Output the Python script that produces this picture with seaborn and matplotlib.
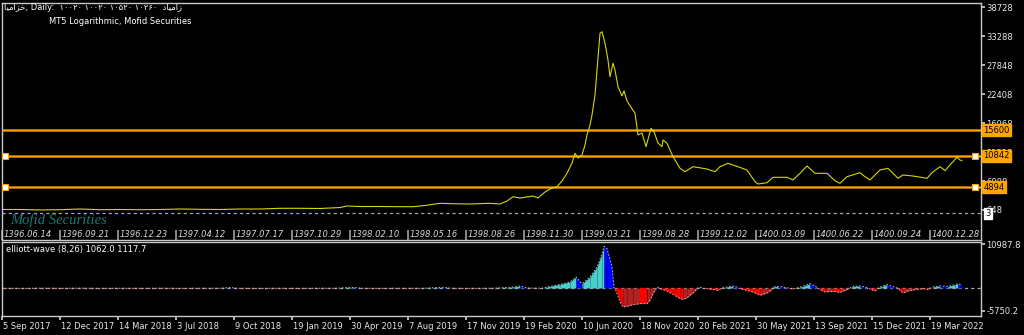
import matplotlib
matplotlib.use("Agg")
import matplotlib.pyplot as plt
import matplotlib.transforms as mtransforms
import numpy as np
import pandas as pd
import seaborn as sns

# ---------------- data ----------------
tick_bars = [0, 58, 116, 174, 232, 290, 348, 406, 464, 522, 580, 638, 696, 754, 812, 870, 928]
greg_labels = ['5 Sep 2017', '12 Dec 2017', '14 Mar 2018', '3 Jul 2018', '9 Oct 2018',
               '19 Jan 2019', '30 Apr 2019', '7 Aug 2019', '17 Nov 2019', '19 Feb 2020',
               '10 Jun 2020', '18 Nov 2020', '20 Feb 2021', '30 May 2021', '13 Sep 2021',
               '15 Dec 2021', '19 Mar 2022']
shamsi_labels = ['1396.06.14', '1396.09.21', '1396.12.23', '1397.04.12', '1397.07.17',
                 '1397.10.29', '1398.02.10', '1398.05.16', '1398.08.26', '1398.11.30',
                 '1399.03.21', '1399.08.28', '1399.12.02', '1400.03.09', '1400.06.22',
                 '1400.09.24', '1400.12.28']

price_bar = [0, 18, 38, 58, 78, 98, 118, 138, 158, 178, 198, 218, 238, 258, 278, 298, 318, 338,
             345, 358, 378, 398, 411, 423, 438, 453, 468, 488, 498, 505, 511, 518, 531, 536,
             543, 548, 555, 560, 565, 570, 573, 576, 580, 583, 585, 588, 590, 593, 595, 598,
             600, 603, 606, 608, 611, 613, 616, 620, 622, 625, 630, 633, 636, 640, 644, 649,
             652, 656, 660, 661, 665, 671, 678, 683, 691, 705, 713, 718, 726, 736, 745, 753,
             756, 765, 771, 785, 791, 798, 805, 813, 825, 833, 838, 845, 858, 863, 868, 878,
             886, 896, 901, 911, 925, 930, 938, 943, 948, 955, 958, 960]
price_val = [742, 742, 660, 704, 836, 704, 742, 704, 742, 836, 779, 742, 836, 836, 967, 967, 929, 1117,
             1398, 1304, 1304, 1267, 1267, 1492, 1905, 1811, 1774, 1905, 1774, 2336, 3143, 2899, 3274, 2899,
             4025, 4588, 5019, 6088, 7533, 9465, 11285, 10403, 10966, 12842, 14718, 16594, 18470, 22222, 26912, 33797,
             34097, 31921, 28788, 25655, 28169, 26912, 23779, 22044, 22987, 21106, 19645, 18808, 14718, 15093, 12523, 15975,
             15337, 13218, 12523, 13780, 13161, 10647, 8471, 7833, 8771, 8340, 7833, 8771, 9409, 8771, 8152, 5957,
             5526, 5770, 6782, 6782, 6276, 7533, 8902, 7533, 7533, 6145, 5657, 6895, 7645, 6895, 6276, 8152,
             8471, 6595, 7214, 7026, 6595, 7645, 8771, 8021, 9090, 10535, 10027, 9897]

osc_bar = [0, 20, 40, 60, 80, 100, 120, 140, 160, 180, 200, 220, 228, 235, 255, 275, 295, 315, 335,
           350, 360, 380, 400, 420, 440, 450, 470, 490, 505, 513, 518, 525, 540, 545, 558, 568, 574,
           580, 581, 588, 595, 600, 602, 605, 610, 612, 613, 615, 618, 621, 625, 631, 638, 645, 648,
           651, 655, 658, 665, 671, 678, 681, 685, 691, 696, 698, 701, 708, 716, 720, 725, 731, 735,
           738, 745, 751, 758, 765, 770, 771, 776, 781, 786, 791, 795, 801, 808, 813, 816, 818, 823,
           831, 838, 845, 848, 851, 858, 863, 868, 873, 876, 880, 885, 890, 895, 898, 901, 906, 915,
           921, 926, 931, 938, 946, 953, 956, 958, 960]
osc_val = [-60, -80, -50, -70, -40, -80, -60, -70, -50, -80, -60, -40, 120, -60, -80, -60, -80, -60, -50,
           150, -60, -80, -60, -70, 150, -60, -80, -60, 100, 300, 500, 0, -50, 250, 916, 1500, 2750,
           1083, 1250, 2750, 5250, 8580, 10412, 9830, 5250, 0, -167, -1416, -3500, -4750, -4580, -4165, -3915, -3915, -3082,
           -1416, 250, -167, -750, -1583, -2666, -2832, -2416, -1250, 0, 250, -83, -250, -583, 0, 250, 500, 250,
           -167, -583, -1000, -1833, -1250, -417, 250, 416, 250, 0, -250, 0, 416, 1083, 500, 0, -417, -1000,
           -833, -1083, -417, 0, 416, 500, 250, -250, -750, 0, 416, 833, 416, 0, -583, -1250, -750, -333,
           -167, -333, 250, 500, 416, 833, 1083, 900, 666]

levels = [15600, 10842, 4894]
level_labels = ['15600', '10842', '4894']
price_ticks = [648, 6088, 11528, 16968, 22408, 27848, 33288, 38728]
osc_ticks = [-5750.2, 10987.8]
osc_tick_labels = ['-5750.2', '10987.8']

title_txt = "\ufe8e\ufbff\ufee3\ufe8d\ufeb0\ufea7, Daily:  \u06f1\u06f0\u06f0\u06f2\u06f0 \u06f1\u06f0\u06f0\u06f2\u06f0 \u06f1\u06f0\u06f5\u06f2\u06f0 \u06f1\u06f0\u06f2\u06f6\u06f0  \ufea9\ufe8e\ufbff\ufee3\ufe8d\ufeaf"
subtitle_txt = "MT5 Logarithmic, Mofid Securities"
osc_title = "elliott-wave (8,26) 1062.0 1117.7"
watermark = "Mofid Securities"

# ---------------- style ----------------
sns.set_theme(style="dark", rc={
    "axes.facecolor": "black", "figure.facecolor": "black",
    "axes.edgecolor": "#c8c8c8", "axes.grid": False,
    "text.color": "white", "xtick.color": "#c8c8c8", "ytick.color": "#c8c8c8",
    "axes.linewidth": 1.0,
})
plt.rcParams["font.family"] = ["DejaVu Sans", "Noto Sans"]

W, H = 1024, 335
fig = plt.figure(figsize=(W / 100, H / 100), dpi=100, facecolor="black")
ax1 = fig.add_axes([2 / W, 1 - 240 / H, 979 / W, 237 / H])
ax2 = fig.add_axes([2 / W, 1 - 316 / H, 979 / W, 74 / H])

for ax in (ax1, ax2):
    ax.set_facecolor("black")
    for s in ax.spines.values():
        s.set_color("#c8c8c8")
        s.set_linewidth(1.0)
    ax.set_xlim(0, 979)

# ---------------- price panel ----------------
ax1.set_ylim(-4980, 39480)
ax1.axhline(0, color="#a8a8a8", lw=0.9, ls=(0, (2.5, 2.5)), zorder=1)
for lv in levels:
    ax1.axhline(lv, color="#9a5a00", lw=2.1, zorder=2)
    ax1.axhline(lv, color="#ffa500", lw=1.0, zorder=3)

sns.lineplot(x=price_bar, y=price_val, ax=ax1, color="#d6d600", lw=0.8, zorder=4)

btrans = mtransforms.blended_transform_factory(ax1.transAxes, ax1.transData)
for lv in levels[1:]:
    ax1.plot([0.003, 0.994], [lv, lv], transform=btrans, marker="s", ms=4.5,
             mfc="white", mec="#ffa500", mew=0.8, ls="none", zorder=6, clip_on=False)
for lv, lab in zip(levels, level_labels):
    ax1.text(1.0025, lv, lab, transform=btrans, ha="left", va="center", fontsize=6,
             color="black", zorder=10, clip_on=False,
             bbox=dict(boxstyle="square,pad=0.18", fc="#ffa500", ec="#ffa500"))
ax1.text(1.004, 0, "3", transform=btrans, ha="left", va="center", fontsize=6, color="black",
         zorder=10, clip_on=False, bbox=dict(boxstyle="square,pad=0.15", fc="white", ec="white"))

ax1.yaxis.tick_right()
ax1.set_yticks(price_ticks)
ax1.set_yticklabels([str(t) for t in price_ticks])
ax1.tick_params(axis="y", colors="#c8c8c8", labelcolor="#e8e8e8", labelsize=6, length=3, pad=1,
                direction="out", right=True, left=False)
ax1.set_ylabel("")

ax1.set_xticks(tick_bars)
ax1.set_xticklabels(shamsi_labels, ha="left", style="italic", fontsize=6)
ax1.tick_params(axis="x", direction="in", length=7, pad=-7.5, colors="#9a9a9a",
                labelcolor="#d8d8d8", bottom=True)
off = mtransforms.ScaledTranslation(2 / 100, 0, fig.dpi_scale_trans)
for lab in ax1.get_xticklabels():
    lab.set_transform(lab.get_transform() + off)

ax1.text(0.008, 0.084, watermark, transform=ax1.transAxes, ha="left", va="center",
         family=["Liberation Serif", "DejaVu Serif"], style="italic", fontsize=10.5, color="#1a7a7a")

# ---------------- oscillator panel ----------------
ax2.set_ylim(-7000, 11490)
ax2.axhline(0, color="#a8a8a8", lw=0.9, ls=(0, (2.5, 2.5)), zorder=1)
for i in range(len(osc_bar) - 1):
    x0, x1 = osc_bar[i], osc_bar[i + 1]
    v0, v1 = osc_val[i], osc_val[i + 1]
    mean = (v0 + v1) / 2
    if mean >= 0:
        col = "#48d1cc" if v1 >= v0 else "#0000ff"
    else:
        col = "#ff0000" if v1 <= v0 else "#b22222"
    ax2.fill_between([x0, x1], [v0, v1], 0, color=col, lw=0, zorder=2)
sns.lineplot(x=osc_bar, y=osc_val, ax=ax2, color="#d0d0d0", lw=0.6, ls=(0, (2, 2)), zorder=3)

ax2.yaxis.tick_right()
ax2.set_yticks(osc_ticks)
ax2.set_yticklabels(osc_tick_labels)
ax2.tick_params(axis="y", colors="#c8c8c8", labelcolor="#e8e8e8", labelsize=6, length=3, pad=1,
                direction="out", right=True, left=False)
ax2.set_ylabel("")
ax2.set_xticks(tick_bars)
ax2.set_xticklabels(greg_labels, ha="left", fontsize=6)
ax2.tick_params(axis="x", direction="out", length=3, pad=1.5, colors="#c8c8c8",
                labelcolor="#e8e8e8", bottom=True)
off2 = mtransforms.ScaledTranslation(1 / 100, 0, fig.dpi_scale_trans)
for lab in ax2.get_xticklabels():
    lab.set_transform(lab.get_transform() + off2)
ax2.text(4 / 979, 0.9, osc_title, transform=ax2.transAxes, ha="left", va="center",
         fontsize=6, color="white")

# ---------------- header ----------------
fig.text(4 / W, 1 - 7.5 / H, title_txt, ha="left", va="center", fontsize=6, color="white")
fig.text(49 / W, 1 - 22 / H, subtitle_txt, ha="left", va="center", fontsize=6, color="white")

fig.savefig("out.png", dpi=100, facecolor="black")
